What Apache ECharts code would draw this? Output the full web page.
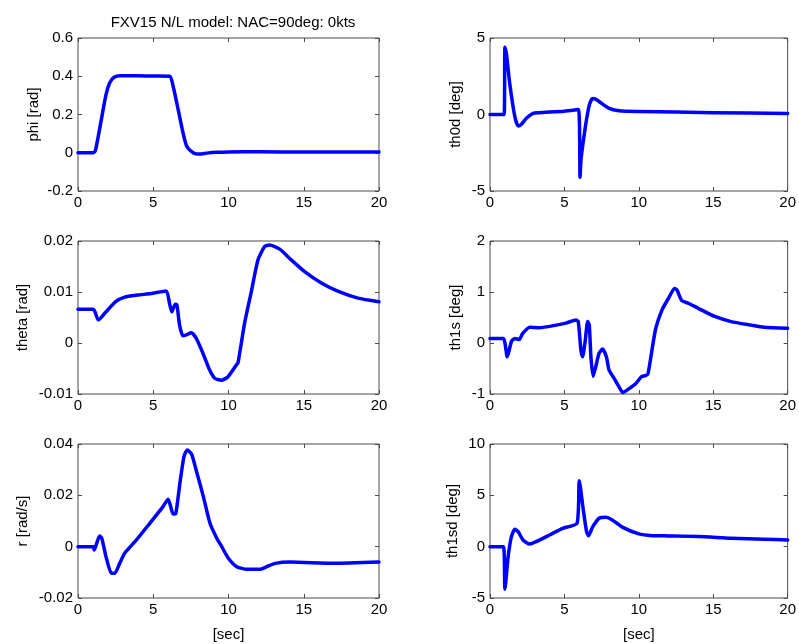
<!DOCTYPE html>
<html><head><meta charset="utf-8">
<script src="https://cdn.jsdelivr.net/npm/echarts@6/dist/echarts.min.js"></script>
<style>html,body{margin:0;padding:0;background:#fff}#c{width:799px;height:644px}</style>
</head><body><div id="c"></div>
<script>
const titleText = 'FXV15 N/L model: NAC=90deg: 0kts';
const yNames = ['phi [rad]', 'th0d [deg]', 'theta [rad]', 'th1s [deg]', 'r [rad/s]', 'th1sd [deg]'];
const xName = '[sec]';
const yMins = [-0.2, -5, -0.01, -1, -0.02, -5];
const yMaxs = [0.6, 5, 0.02, 2, 0.04, 10];
const yIntervals = [0.2, 5, 0.01, 1, 0.02, 5];

const phiT = [0, 1.0, 1.15, 1.45, 1.85, 2.1, 2.4, 2.8, 4, 5, 6.1, 6.33, 6.66, 6.99, 7.21, 7.55, 7.89, 8.2, 8.56, 9.2, 10, 12, 15, 20];
const phiV = [0, 0, 0.01, 0.13, 0.30, 0.365, 0.395, 0.403, 0.402, 0.401, 0.40, 0.345, 0.224, 0.10, 0.037, 0.006, -0.007, -0.006, -0.002, 0.002, 0.004, 0.005, 0.004, 0.004];

const th0dT = [0, 0.95, 1.0, 1.1, 1.33, 1.67, 1.9, 2.1, 2.44, 2.89, 3.3, 5, 5.95, 6.05, 6.11, 6.22, 6.44, 6.67, 6.89, 7.1, 7.33, 8.0, 8.67, 10, 15, 20];
const th0dV = [0, 0, 4.4, 4.0, 2.0, -0.14, -0.75, -0.65, -0.25, 0.08, 0.12, 0.22, 0.32, -4.1, -3.0, -2.1, -0.6, 0.6, 1.05, 1.0, 0.85, 0.4, 0.25, 0.2, 0.12, 0.07];

const thetaT = [0, 1.02, 1.35, 1.86, 2.5, 3.1, 3.98, 4.86, 5.86, 6.08, 6.23, 6.46, 6.57, 6.75, 6.97, 7.2, 7.53, 7.86, 8.3, 8.75, 9.08, 9.52, 9.97, 10.52, 10.63, 11.07, 11.52, 11.96, 12.4, 12.73, 13.4, 14.17, 15.06, 16.2, 17.3, 18.6, 20];
const thetaV = [0.0066, 0.0066, 0.0045, 0.0061, 0.0081, 0.0090, 0.0094, 0.0097, 0.0102, 0.0078, 0.0061, 0.0076, 0.0075, 0.0035, 0.0014, 0.0016, 0.0020, 0.0009, -0.0020, -0.0053, -0.0069, -0.0073, -0.0066, -0.0043, -0.0039, 0.0039, 0.0101, 0.0163, 0.0189, 0.0192, 0.0184, 0.0163, 0.0140, 0.0117, 0.0101, 0.0088, 0.0081];

const th1sT = [0, 0.89, 1.16, 1.44, 1.67, 1.96, 2.2, 2.67, 3.33, 4.44, 5.1, 5.78, 5.93, 6.11, 6.22, 6.4, 6.56, 6.67, 6.78, 6.93, 7.11, 7.33, 7.56, 7.82, 8.0, 8.33, 8.67, 8.93, 9.22, 9.78, 10.18, 10.44, 10.62, 11.11, 11.56, 12.0, 12.4, 12.56, 12.89, 13.33, 14.0, 15.1, 16.2, 17.56, 18.4, 20];
const th1sV = [0.09, 0.09, -0.27, 0.03, 0.09, 0.07, 0.19, 0.31, 0.30, 0.35, 0.39, 0.45, 0.42, -0.14, -0.27, 0.05, 0.42, 0.35, -0.27, -0.65, -0.46, -0.20, -0.12, -0.27, -0.53, -0.69, -0.86, -0.97, -0.92, -0.80, -0.66, -0.64, -0.60, 0.25, 0.65, 0.88, 1.07, 1.04, 0.83, 0.78, 0.68, 0.52, 0.42, 0.35, 0.31, 0.29];

const rT = [0, 1.02, 1.08, 1.43, 1.58, 1.86, 2.22, 2.44, 2.77, 3.1, 3.88, 4.77, 5.65, 5.99, 6.14, 6.32, 6.5, 6.77, 7.04, 7.26, 7.55, 7.88, 8.33, 8.77, 9.22, 9.55, 9.99, 10.55, 11.22, 12.1, 12.55, 13.1, 14.1, 17, 20];
const rV = [0, 0, -0.0013, 0.0042, 0.0033, -0.0039, -0.0104, -0.0104, -0.0065, -0.0026, 0.0026, 0.0091, 0.0156, 0.0185, 0.016, 0.0127, 0.013, 0.0247, 0.0351, 0.0377, 0.036, 0.0292, 0.0195, 0.0091, 0.0033, 0.0, -0.0045, -0.0078, -0.0088, -0.0088, -0.0078, -0.0065, -0.006, -0.0065, -0.006];

const th1sdT = [0, 0.9, 1.0, 1.22, 1.44, 1.67, 1.89, 2.22, 2.67, 3.1, 4.0, 4.89, 5.85, 6.0, 6.27, 6.49, 6.62, 6.89, 7.33, 7.78, 8.22, 8.89, 10.0, 10.89, 12, 14, 16.2, 18.4, 20];
const th1sdV = [0, 0, -4.15, -0.97, 0.97, 1.69, 1.46, 0.65, 0.26, 0.49, 1.14, 1.79, 2.28, 6.43, 3.57, 1.46, 1.07, 1.9, 2.77, 2.86, 2.6, 1.9, 1.24, 1.07, 1.05, 1.0, 0.82, 0.72, 0.65];

const seriesT = [phiT, th0dT, thetaT, th1sT, rT, th1sdT];
const seriesV = [phiV, th0dV, thetaV, th1sV, rV, th1sdV];

const FONT = '"Liberation Sans", Arial, Helvetica, sans-serif';
const AXC = '#4a4a4a';
const colLeft = [78, 490], colWidth = [301, 300];
const rowTop = [38, 241, 444], rowHeight = [153, 153, 154];
const nameGaps = [37, 27, 48, 27, 48, 30];

const grids = [], xAxes = [], yAxes = [], series = [];
for (let i = 0; i < 6; i++) {
  const col = i % 2, row = Math.floor(i / 2);
  grids.push({left: colLeft[col], top: rowTop[row], width: colWidth[col], height: rowHeight[row],
    show: true, borderColor: AXC, borderWidth: 1, backgroundColor: '#fff'});
  const baseX = {gridIndex: i, type: 'value', min: 0, max: 20, interval: 5,
    axisLine: {show: false, onZero: false}, splitLine: {show: false},
    axisTick: {show: true, inside: true, length: 4, lineStyle: {color: AXC}}};
  xAxes.push(Object.assign({}, baseX, {position: 'bottom',
    axisLabel: {show: true, margin: 4, color: '#000', fontSize: 15, fontFamily: FONT},
    name: row === 2 ? xName : '', nameLocation: 'middle', nameGap: 29,
    nameTextStyle: {color: '#000', fontSize: 15, fontFamily: FONT}}));
  xAxes.push(Object.assign({}, baseX, {position: 'top', axisLabel: {show: false}}));
  const baseY = {gridIndex: i, type: 'value', min: yMins[i], max: yMaxs[i], interval: yIntervals[i],
    axisLine: {show: false, onZero: false}, splitLine: {show: false},
    axisTick: {show: true, inside: true, length: 4, lineStyle: {color: AXC}}};
  yAxes.push(Object.assign({}, baseY, {position: 'left',
    axisLabel: {show: true, margin: 5, color: '#000', fontSize: 15, fontFamily: FONT},
    name: yNames[i], nameLocation: 'middle', nameGap: nameGaps[i], nameRotate: 90,
    nameTextStyle: {color: '#000', fontSize: 15, fontFamily: FONT}}));
  yAxes.push(Object.assign({}, baseY, {position: 'right', axisLabel: {show: false}}));
  const data = seriesT[i].map((t, k) => [t, seriesV[i][k]]);
  series.push({type: 'line', xAxisIndex: 2 * i, yAxisIndex: 2 * i, data: data, showSymbol: false, symbol: 'none',
    smooth: 0.2, lineStyle: {color: '#0000ff', width: 3.5, cap: 'round', join: 'round'}, clip: true});
}

const chart = echarts.init(document.getElementById('c'), null, {renderer: 'canvas'});
chart.setOption({
  animation: false,
  backgroundColor: '#fff',
  title: {text: titleText, left: 228, top: 10, textAlign: 'center',
    textStyle: {color: '#000', fontSize: 15, fontWeight: 'normal', fontFamily: FONT}},
  grid: grids, xAxis: xAxes, yAxis: yAxes, series: series
});
</script></body></html>
